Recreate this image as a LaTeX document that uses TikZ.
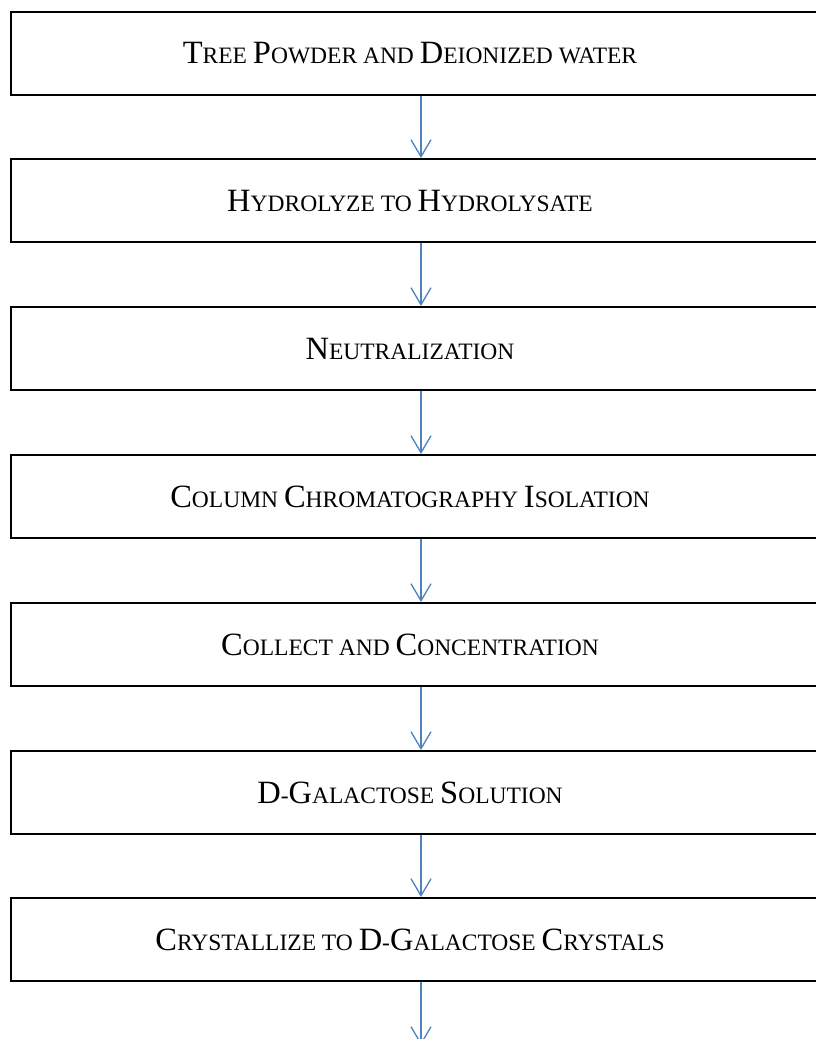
\documentclass[tikz,border=0pt]{standalone}
\usepackage{fontspec}
\setmainfont{Liberation Serif}
\usetikzlibrary{arrows.meta}

% word-style small caps: big initials, small upper case
\newcommand{\BigC}[1]{{\fontsize{32.5}{38}\selectfont #1}}
\definecolor{flowblue}{RGB}{79,129,189}

\begin{document}
\begin{tikzpicture}[x=1pt, y=-1pt,
    stepbox/.style={draw=black, line width=2pt, minimum width=820pt,
        minimum height=83pt, inner sep=0pt, font=\fontsize{23.5}{28}\selectfont,
        execute at begin node={\hspace*{-22pt}}},
    flowarrow/.style={draw=flowblue, line width=1.3pt,
        -{Straight Barb[length=17pt, width=20pt, line width=1.3pt]}}]
    \useasboundingbox (0,0) rectangle (815,1039);

    % The process steps
    \node[stepbox] (powder) at (421, 53.5) {\BigC{T}REE \BigC{P}OWDER AND \BigC{D}EIONIZED WATER};
    \node[stepbox] (hydro) at (421, 200.5) {\BigC{H}YDROLYZE TO \BigC{H}YDROLYSATE};
    \node[stepbox] (neutral) at (421, 348.5) {\BigC{N}EUTRALIZATION};
    \node[stepbox] (column) at (421, 496.5) {\BigC{C}OLUMN \BigC{C}HROMATOGRAPHY \BigC{I}SOLATION};
    \node[stepbox] (collect) at (421, 644.5) {\BigC{C}OLLECT AND \BigC{C}ONCENTRATION};
    \node[stepbox] (solution) at (421, 792.5) {\BigC{D}-\BigC{G}ALACTOSE \BigC{S}OLUTION};
    \node[stepbox] (crystal) at (421, 939.5) {\BigC{C}RYSTALLIZE TO \BigC{D}-\BigC{G}ALACTOSE \BigC{C}RYSTALS};
    \coordinate (next) at (421, 1045);

    % Arrows between the steps
    \draw[flowarrow] (powder) -- (hydro);
    \draw[flowarrow] (hydro) -- (neutral);
    \draw[flowarrow] (neutral) -- (column);
    \draw[flowarrow] (column) -- (collect);
    \draw[flowarrow] (collect) -- (solution);
    \draw[flowarrow] (solution) -- (crystal);
    \draw[flowarrow] (crystal) -- (next);
\end{tikzpicture}
\end{document}
